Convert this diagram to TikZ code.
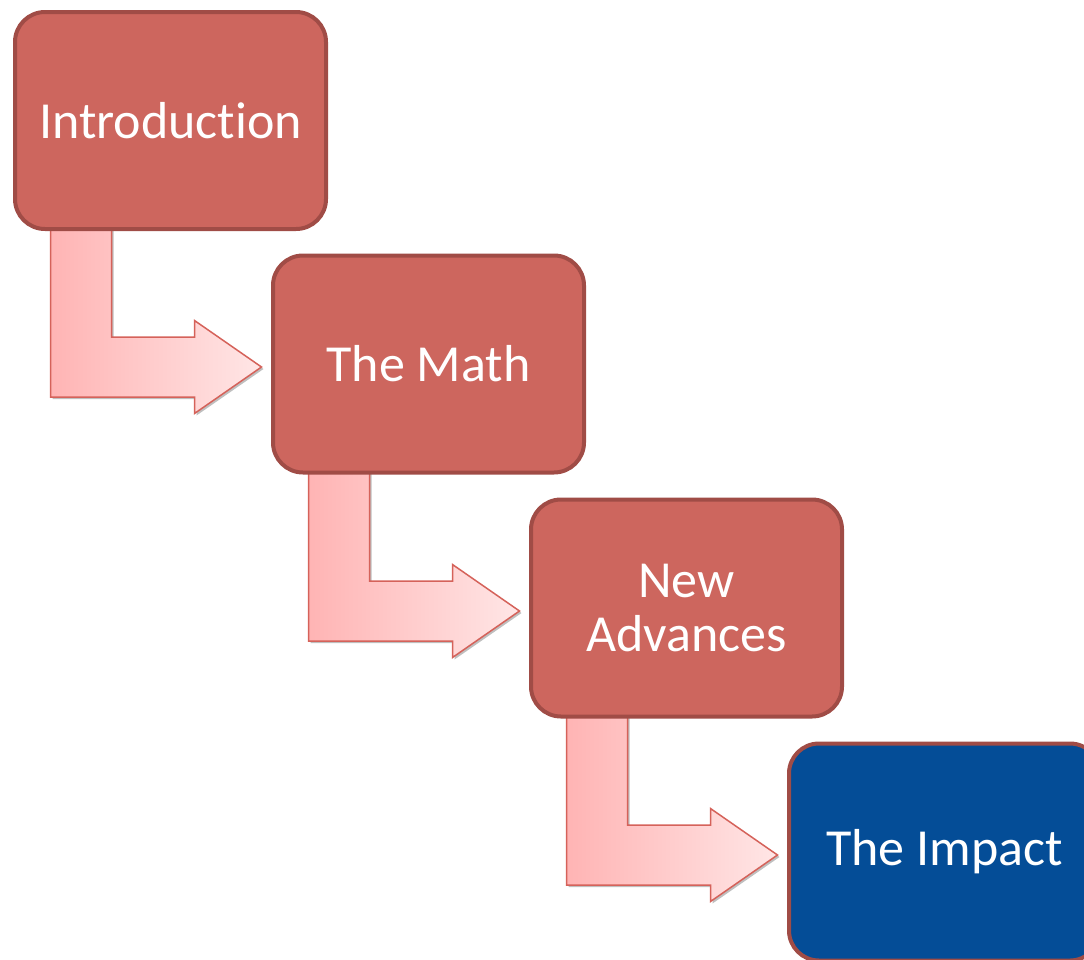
\documentclass[tikz,border=0pt]{standalone}
\usepackage{fontspec}
\setmainfont{Carlito}[Ligatures={NoCommon}]
\usetikzlibrary{calc,shadows}
\definecolor{boxred}{HTML}{CD665E}
\definecolor{boxedge}{HTML}{A04C46}
\definecolor{boxblue}{HTML}{044D97}
\definecolor{arrowedge}{HTML}{D5625A}
\definecolor{arrowleft}{HTML}{FFB4B4}
\definecolor{arrowright}{HTML}{FFE6E6}
\begin{document}
\begin{tikzpicture}[x=1pt,y=-1pt,
  stagebox/.style={draw=boxedge, line width=4pt, fill=boxred, rounded corners=30pt,
    minimum width=311pt, minimum height=217pt, inner sep=0pt, text=white,
    align=center, font=\fontsize{52}{54}\selectfont},
  lastbox/.style={stagebox, fill=boxblue},
  bentarrow/.style={draw=arrowedge, line width=1.5pt, line join=miter,
    left color=arrowleft, right color=arrowright,
    drop shadow={shadow xshift=2pt, shadow yshift=-2pt, opacity=0.25, fill=black}}]
\useasboundingbox (0,0) rectangle (1084,959);
% arrows (drawn first, behind boxes)
\foreach \i/\j in {0/1,1/2,2/3}{
  \coordinate (s) at ($(170.5,119.5)+\i*(258,244)+(-120,108)$);
  \coordinate (t) at ($(170.5,119.5)+\j*(258,244)+(-167,3.5)$);
  \path[bentarrow] (s) -- ++(61,0) |- ($(t)+(-67,-30)$) -- ++(0,-16.5) -- (t)
    -- ++(-67,46.5) -- ++(0,-16.5) -| (s) -- cycle;
}
\node[stagebox] (b1) at (170.5,120.5) {Introduction};
\node[stagebox] (b2) at (428.5,364) {The Math};
\node[stagebox] (b3) at (686.5,608) {New\\Advances};
\node[lastbox]  (b4) at (944.5,852) {The Impact};
\end{tikzpicture}
\end{document}
